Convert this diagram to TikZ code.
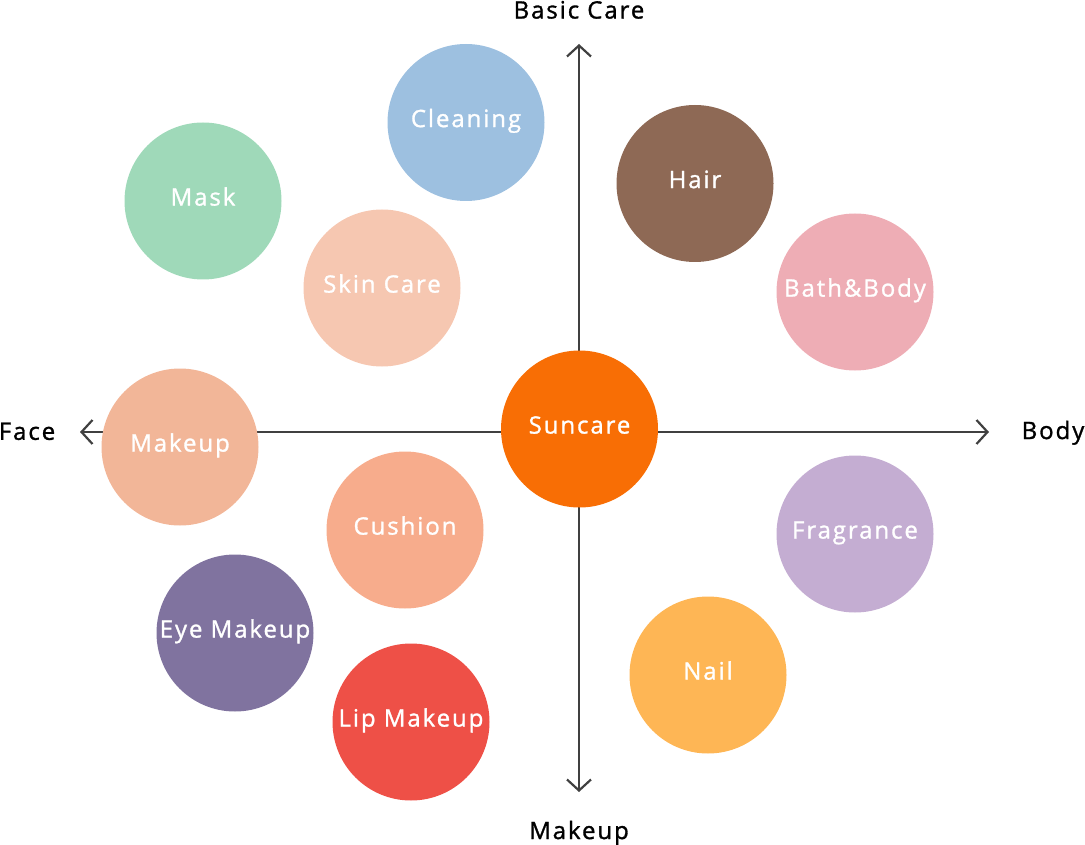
\documentclass[tikz,border=0pt]{standalone}
\usepackage{fontspec}
\setmainfont{Open Sans}[LetterSpace=8,FakeBold=1.2]
\usetikzlibrary{arrows.meta}
\definecolor{axiscol}{HTML}{404040}
\definecolor{cClean}{HTML}{9DC0E0}
\definecolor{cMask}{HTML}{9FD9B9}
\definecolor{cHair}{HTML}{8E6955}
\definecolor{cSkin}{HTML}{F6C7B1}
\definecolor{cBath}{HTML}{EEADB5}
\definecolor{cSun}{HTML}{F86E05}
\definecolor{cMake}{HTML}{F2B698}
\definecolor{cCush}{HTML}{F7AC8C}
\definecolor{cFrag}{HTML}{C4ADD2}
\definecolor{cEye}{HTML}{80739F}
\definecolor{cNail}{HTML}{FEB655}
\definecolor{cLip}{HTML}{EE5047}
\tikzset{
  bubble/.style={circle, minimum size=157pt, inner sep=0pt, text=white,
    text height=18pt, text depth=8.8pt,
    font=\fontsize{24}{28}\selectfont},
  axislabel/.style={text=black, inner sep=0pt, text height=17.1pt, text depth=0pt,
    font=\fontsize{24}{28}\selectfont},
  axisline/.style={draw=axiscol, line width=2.2pt,
    arrows={Straight Barb[length=11pt,width=24pt,line width=2.2pt]-Straight Barb[length=11pt,width=24pt,line width=2.2pt]}}
}
\begin{document}
\begin{tikzpicture}[x=1pt,y=-1pt]
\useasboundingbox (0,0) rectangle (1085,845);
% axis ends
\coordinate (atop) at (579,44);
\coordinate (abot) at (579,792);
\coordinate (aleft) at (80,432);
\coordinate (aright) at (989,432);
\draw[axisline] (atop) -- (abot);
\draw[axisline] (aleft) -- (aright);
% axis labels
\node[axislabel] (lbasic) at (579,10) {Basic Care};
\node[axislabel] (lmake) at (579,830.5) {Makeup};
\node[axislabel] (lface) at (27,431.3) {Face};
\node[axislabel] (lbody) at (1053,430.5) {Body};
% bubbles
\node[bubble, fill=cClean] (clean) at (466,122.5) {Cleaning};
\node[bubble, fill=cMask] (mask) at (203,201) {Mask};
\node[bubble, fill=cHair] (hair) at (695,183.5) {Hair};
\node[bubble, fill=cSkin] (skin) at (382,288) {Skin Care};
\node[bubble, fill=cBath] (bath) at (855,292) {Bath\&Body};
\node[bubble, fill=cSun] (sun) at (579.5,429) {Suncare};
\node[bubble, fill=cMake] (makeup) at (180,447) {Makeup};
\node[bubble, fill=cCush] (cush) at (405,530) {Cushion};
\node[bubble, fill=cFrag] (frag) at (855,534) {Fragrance};
\node[bubble, fill=cEye] (eye) at (235,633) {Eye Makeup};
\node[bubble, fill=cNail] (nail) at (708,675) {Nail};
\node[bubble, fill=cLip] (lip) at (411,722) {Lip Makeup};
\end{tikzpicture}
\end{document}
